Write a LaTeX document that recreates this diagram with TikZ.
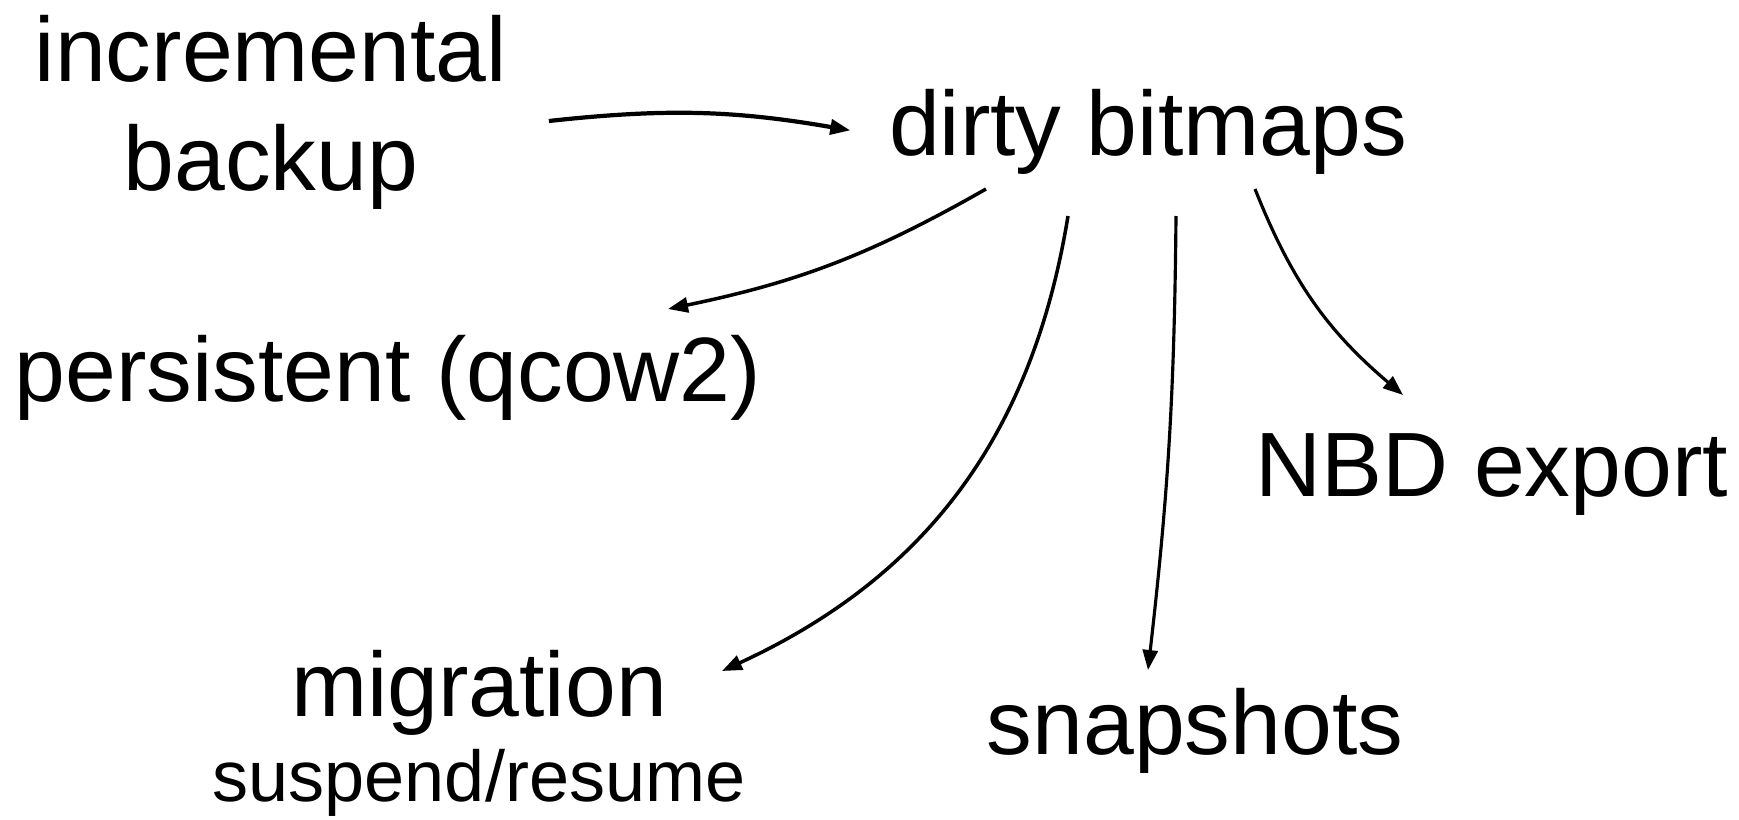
\documentclass[tikz,border=0pt]{standalone}
\usepackage{fontspec}
\setmainfont{Liberation Sans}
\usetikzlibrary{arrows.meta}
\newcommand\mylabelsize{\fontsize{26}{31}\selectfont}
\newcommand\mysmallsize{\fontsize{20.5}{24}\selectfont}

\begin{document}
\begin{tikzpicture}[x=0.1mm,y=-0.1mm,
    lbl/.style={inner sep=0pt,anchor=base,font=\mylabelsize},
    arr/.style={-{Triangle[length=2mm,width=1.5mm]},line width=0.9pt}]
  \useasboundingbox (0,0) rectangle (1739,819);
  \node[lbl,align=center,anchor=center] (backup) at (271,112) {incremental\\backup};
  \node[lbl] (bitmaps) at (1148,155) {dirty bitmaps};
  \node[lbl] (persist) at (388,401) {persistent (qcow2)};
  \node[lbl] (nbd) at (1492,496) {NBD export};
  \node[lbl] (migr) at (479,716) {migration};
  \node[lbl,font=\mysmallsize] (susp) at (479,801) {suspend/resume};
  \node[lbl] (snap) at (1195,754) {snapshots};
  \draw[arr,line width=1.2pt] ([shift={(41,9)}]backup.east) to[bend left=8] ([shift={(-38,-1)}]bitmaps.west);
  \draw[arr,line width=1pt] ([shift={(-162,34)}]bitmaps.base) to[bend left=9] ([shift={(280,-92)}]persist.base);
  \draw[arr,line width=1pt] ([shift={(-80,61)}]bitmaps.base) to[bend left=28] ([shift={(243,-45)}]migr.base);
  \draw[arr] ([shift={(28,61)}]bitmaps.base) to[bend left=3] ([shift={(-47,-84)}]snap.base);
  \draw[arr] ([shift={(107,34)}]bitmaps.base) to[bend right=14] ([shift={(-89,-101)}]nbd.base);
\end{tikzpicture}
\end{document}
